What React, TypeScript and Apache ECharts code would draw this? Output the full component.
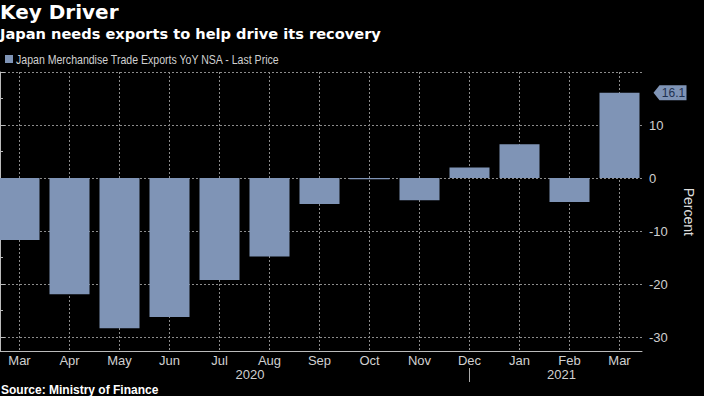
import React, { useEffect, useRef } from 'react';
import * as echarts from 'echarts';

const categories = ['2020-03', '2020-04', '2020-05', '2020-06', '2020-07', '2020-08', '2020-09', '2020-10', '2020-11', '2020-12', '2021-01', '2021-02', '2021-03'];
const monthLabels = ['Mar', 'Apr', 'May', 'Jun', 'Jul', 'Aug', 'Sep', 'Oct', 'Nov', 'Dec', 'Jan', 'Feb', 'Mar'];
const exportsYoY = [-11.7, -21.9, -28.3, -26.2, -19.2, -14.8, -4.9, -0.2, -4.2, 2.0, 6.4, -4.5, 16.1];
const yearLabels = ['2020', '2021'];
const lastValue = 16.1;

const BAR = '#7f94b6';
const TEXT = '#d0d0d0';
const GRIDC = '#8c8c8c';
const FONT = '"Liberation Sans", Arial, sans-serif';
const TITLE_FONT = '"DejaVu Sans", sans-serif';

export default function App() {
  const ref = useRef<HTMLDivElement>(null);
  useEffect(() => {
    const chart = echarts.init(ref.current!, null, { renderer: 'svg' });
    const TOP = 72;
    const BOTTOM = 44.5;
    const YMIN = -32.7;
    const YMAX = 20;
    const baseGraphics: any[] = [
      { type: 'text', left: 0, top: 2, style: { text: 'Key Driver', fill: '#fff', font: `bold 20px ${TITLE_FONT}` } },
      { type: 'text', left: 0, top: 26, style: { text: 'Japan needs exports to help drive its recovery', fill: '#fff', font: `bold 14.6px ${TITLE_FONT}` } },
      { type: 'rect', shape: { x: 5, y: 55, width: 8, height: 8 }, style: { fill: BAR } },
      { type: 'text', x: 16, y: 59.5, scaleX: 0.88, style: { text: 'Japan Merchandise Trade Exports YoY NSA - Last Price', fill: TEXT, font: `12px ${FONT}`, verticalAlign: 'middle' } },
      { type: 'text', x: 250, y: 374.5, style: { text: yearLabels[0], fill: TEXT, font: `13px ${FONT}`, align: 'center', verticalAlign: 'middle' } },
      { type: 'text', x: 561.5, y: 374.5, style: { text: yearLabels[1], fill: TEXT, font: `13px ${FONT}`, align: 'center', verticalAlign: 'middle' } },
      { type: 'line', shape: { x1: 469.5, y1: 368, x2: 469.5, y2: 382 }, style: { stroke: '#aaa', lineWidth: 1 } },
      { type: 'text', x: 1, y: 389.5, style: { text: 'Source: Ministry of Finance', fill: '#fff', font: `bold 12px ${FONT}`, verticalAlign: 'middle' } },
    ];
    const option: any = {
      animation: false,
      backgroundColor: '#000',
      grid: [
        { left: 19.5, width: 600, top: TOP, bottom: BOTTOM },
        { left: 0, right: 51, top: TOP, bottom: BOTTOM },
      ],
      xAxis: [
        {
          gridIndex: 0,
          type: 'category',
          data: categories,
          boundaryGap: false,
          axisLine: { show: false },
          axisTick: { show: false },
          axisLabel: {
            interval: 0,
            color: TEXT,
            fontSize: 13,
            fontFamily: FONT,
            margin: 2,
            formatter: (_v: string, i: number) => monthLabels[i],
          },
          splitLine: { show: true, interval: 0, lineStyle: { color: GRIDC, type: [2, 2], width: 1 } },
        },
        {
          gridIndex: 1,
          type: 'value',
          min: 0,
          max: 1,
          axisLine: { show: true, onZero: false, lineStyle: { color: '#bbb', width: 1 } },
          axisTick: { show: false },
          axisLabel: { show: false },
          splitLine: { show: false },
        },
      ],
      yAxis: [
        { gridIndex: 0, type: 'value', min: YMIN, max: YMAX, show: false },
        {
          gridIndex: 1,
          type: 'value',
          position: 'right',
          min: YMIN,
          max: YMAX,
          axisLine: { show: true, lineStyle: { color: '#bbb', width: 1 } },
          axisTick: { show: true, length: 5, lineStyle: { color: '#bbb' } },
          minorTick: { show: true, splitNumber: 2, length: 3, lineStyle: { color: '#bbb' } },
          axisLabel: {
            color: TEXT,
            fontSize: 13,
            fontFamily: FONT,
            margin: 7,
            formatter: (v: number) => (Math.abs(v % 10) < 1e-6 && v < YMAX ? String(v) : ''),
          },
          splitLine: { show: true, lineStyle: { color: GRIDC, type: [2, 2], width: 1 } },
          name: 'Percent',
          nameLocation: 'middle',
          nameRotate: -90,
          nameGap: 40,
          nameTextStyle: { color: '#ddd', fontSize: 14, fontFamily: FONT },
        },
      ],
      series: [
        {
          type: 'bar',
          xAxisIndex: 0,
          yAxisIndex: 0,
          data: exportsYoY,
          barWidth: 40,
          clip: false,
          itemStyle: { color: BAR },
        },
      ],
      graphic: baseGraphics,
    };
    chart.setOption(option);
    const y = chart.convertToPixel({ yAxisIndex: 1 }, lastValue) as number;
    const ax = 653.5;
    chart.setOption(
      {
        ...option,
        graphic: [
          ...baseGraphics,
          {
            type: 'polygon',
            shape: { points: [[ax, y], [ax + 6, y - 7.5], [ax + 33, y - 7.5], [ax + 33, y + 7.5], [ax + 6, y + 7.5]] },
            style: { fill: BAR },
          },
          { type: 'text', x: ax + 20, y: y, style: { text: String(lastValue), fill: '#1f3150', font: `12px ${FONT}`, align: 'center', verticalAlign: 'middle' } },
        ],
      },
      true
    );
    return () => chart.dispose();
  }, []);
  return <div ref={ref} style={{ position: 'absolute', left: 0, top: 0, width: 704, height: 396, background: '#000' }} />;
}
